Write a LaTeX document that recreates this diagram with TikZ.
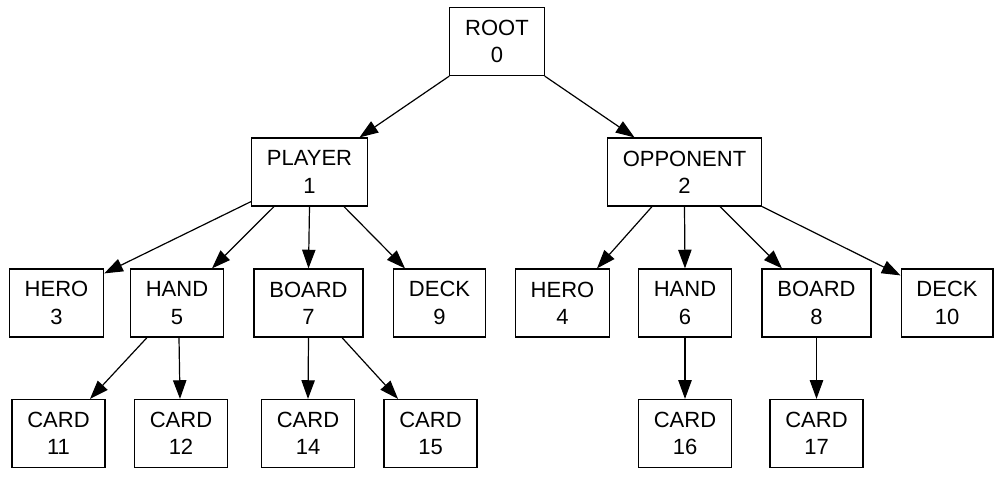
\documentclass[tikz,border=0pt]{standalone}
\usepackage{fontspec}
\setmainfont{Liberation Sans}
\usetikzlibrary{arrows.meta,calc}
\begin{document}
\begin{tikzpicture}[x=0.75pt,y=-0.75pt,
	box/.style={draw,line width=0.9pt,align=center,inner xsep=11.5pt,inner ysep=0pt,minimum height=51pt,font=\fontsize{16.5}{20.5}\selectfont},
	edge/.style={line width=0.9pt,-{Triangle[length=14pt,width=10pt]}}]
			\useasboundingbox (0,0) rectangle (1000,476);
			\node[box] (root) at (497,41.5) {ROOT\\0};
			\node[box] (player) at (309.5,172) {PLAYER\\1};
			\node[box] (opponent) at (684.5,172) {OPPONENT\\2};
			\foreach \n/\x/\t/\k in {hero3/56.5/HERO/3,hand5/177/HAND/5,board7/308.5/BOARD/7,deck9/439.5/DECK/9,hero4/562.5/HERO/4,hand6/685/HAND/6,board8/816.5/BOARD/8,deck10/947/DECK/10}
			\node[box] (\n) at (\x,303) {\t\\\k};
			\foreach \n/\x/\k in {card11/58.5/11,card12/181/12,card14/308/14,card15/430.5/15,card16/685/16,card17/816.5/17}
			\node[box] (\n) at (\x,433.5) {CARD\\\k};
			% root
			\draw[edge] (root.south west)--($(player.north)+(50,0)$);
			\draw[edge] (root.south east)--($(opponent.north)+(-50,0)$);
			% player
			\draw[edge] ($(player.south west)+(0,-5)$)--($(hero3.north east)+(0,5)$);
			\draw[edge] ($(player.south)+(-35.5,0)$)--($(hand5.north)+(35,0)$);
			\draw[edge] (player.south)--(board7.north);
			\draw[edge] ($(player.south)+(34.5,0)$)--($(deck9.north)+(-34.5,0)$);
			% opponent
			\draw[edge] ($(opponent.south)+(-32.5,0)$)--($(hero4.north)+(34.5,0)$);
			\draw[edge] (opponent.south)--(hand6.north);
			\draw[edge] ($(opponent.south)+(35.5,0)$)--($(board8.north)+(-34.5,0)$);
			\draw[edge] (opponent.south east)--($(deck10.north west)+(0,7)$);
			% cards
			\draw[edge] ($(hand5.south)+(-30,0)$)--($(card11.north)+(31.5,0)$);
			\draw[edge] ($(hand5.south)+(2,0)$)--($(card12.north)+(-1,0)$);
			\draw[edge] ($(board7.south)+(33.5,0)$)--($(card15.north)+(-32.5,0)$);
			\foreach \a/\b in {board7/card14,hand6/card16,board8/card17}
			\draw[edge] (\a.south)--(\b.north);
\end{tikzpicture}
\end{document}
